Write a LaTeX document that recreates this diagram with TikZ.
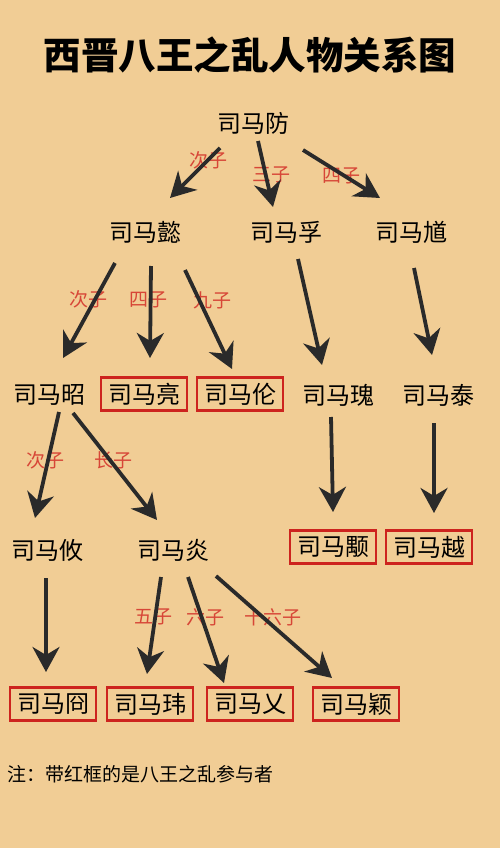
\documentclass[tikz,border=0pt]{standalone}
\usepackage{fontspec}
\setmainfont{Noto Sans CJK SC}
\usetikzlibrary{arrows.meta}
\definecolor{fond}{RGB}{241,205,149}
\definecolor{cadre}{RGB}{205,35,30}
\definecolor{rang}{RGB}{215,70,55}
\definecolor{fleche}{RGB}{42,42,42}
\tikzset{
  prince/.style={minimum width=86pt, minimum height=33pt, inner sep=0pt, font=\fontsize{24}{24}\selectfont},
  roi/.style={prince, draw=cadre, line width=2.5pt},
  fils/.style={text=rang, inner sep=0pt, font=\fontsize{19}{19}\selectfont},
  lien/.style={-{Stealth[length=25pt,width=27pt,inset=8pt]}, line width=3.8pt, draw=fleche},
}

\begin{document}
\begin{tikzpicture}[x=1pt,y=-1pt]
    % Fond
    \fill[fond] (0,0) rectangle (500,848);

    % Titre
    \node (titre) at (250,55) {\bfseries\fontsize{37.5}{37.5}\selectfont 西晋八王之乱人物关系图};

    % Generation 1 et 2
    \node[prince] (fang) at (253,123) {司马防};
    \node[prince] (yi) at (145,232) {司马懿};
    \node[prince] (fu) at (286,232) {司马孚};
    \node[prince] (kui) at (411,232) {司马馗};

    % Generation 3
    \node[prince] (zhao) at (49,395) {司马昭};
    \node[roi] (liang) at (144,394) {司马亮};
    \node[roi] (lun) at (240,394) {司马伦};
    \node[prince] (gui) at (338,395) {司马瑰};
    \node[prince] (tai) at (438,395) {司马泰};

    % Generation 4
    \node[prince] (you) at (47,550) {司马攸};
    \node[prince] (yan) at (173,550) {司马炎};
    \node[roi] (yong) at (333,547) {司马颙};
    \node[roi] (yue) at (429,547) {司马越};

    % Generation 5
    \node[roi] (jiong) at (53,704) {司马冏};
    \node[roi] (wei) at (150,704) {司马玮};
    \node[roi] (ai) at (250,704) {司马乂};
    \node[roi] (ying) at (356,704) {司马颖};

    % Rangs des fils
    \node[fils] (r1) at (208,160) {次子};
    \node[fils] (r2) at (271,175) {三子};
    \node[fils] (r3) at (341,176) {四子};
    \node[fils] (r4) at (88,299) {次子};
    \node[fils] (r5) at (148,300) {四子};
    \node[fils] (r6) at (212,300) {九子};
    \node[fils] (r7) at (45,460) {次子};
    \node[fils] (r8) at (113,460) {长子};
    \node[fils] (r9) at (153,617) {五子};
    \node[fils] (r10) at (205,617) {六子};
    \node[fils] (r11) at (273,617) {十六子};

    % Liens de filiation
    \draw[lien] ([shift={(-33,25)}]fang.center) -- ([shift={(25,-34)}]yi.center);
    \draw[lien] ([shift={(5,18)}]fang.center) -- ([shift={(-13,-25)}]fu.center);
    \draw[lien] ([shift={(50,27)}]fang.center) -- ([shift={(-31,-34)}]kui.center);

    \draw[lien] ([shift={(-30,31)}]yi.center) -- ([shift={(14,-37)}]zhao.center);
    \draw[lien] ([shift={(6,34)}]yi.center) -- ([shift={(6,-36)}]liang.center);
    \draw[lien] ([shift={(40,38)}]yi.center) -- ([shift={(-8,-25)}]lun.center);
    \draw[lien] ([shift={(12,27)}]fu.center) -- ([shift={(-16,-30)}]gui.center);
    \draw[lien] ([shift={(3,36)}]kui.center) -- ([shift={(-6,-40)}]tai.center);

    \draw[lien] ([shift={(10,17)}]zhao.center) -- ([shift={(-12,-32)}]you.center);
    \draw[lien] ([shift={(24,18)}]zhao.center) -- ([shift={(-16,-30)}]yan.center);
    \draw[lien] ([shift={(-7,22)}]gui.center) -- ([shift={(0,-35)}]yong.center);
    \draw[lien] ([shift={(-4,28)}]tai.center) -- ([shift={(5,-34)}]yue.center);

    \draw[lien] ([shift={(-1,28)}]you.center) -- ([shift={(-7,-32)}]jiong.center);
    \draw[lien] ([shift={(-12,27)}]yan.center) -- ([shift={(-3,-30)}]wei.center);
    \draw[lien] ([shift={(15,27)}]yan.center) -- ([shift={(-26,-21)}]ai.center);
    \draw[lien] ([shift={(43,26)}]yan.center) -- ([shift={(-24,-26)}]ying.center);

    % Note
    \node[anchor=west, inner sep=0pt, font=\fontsize{19}{19}\selectfont] (note) at (7,774) {注：带红框的是八王之乱参与者};
\end{tikzpicture}
\end{document}
